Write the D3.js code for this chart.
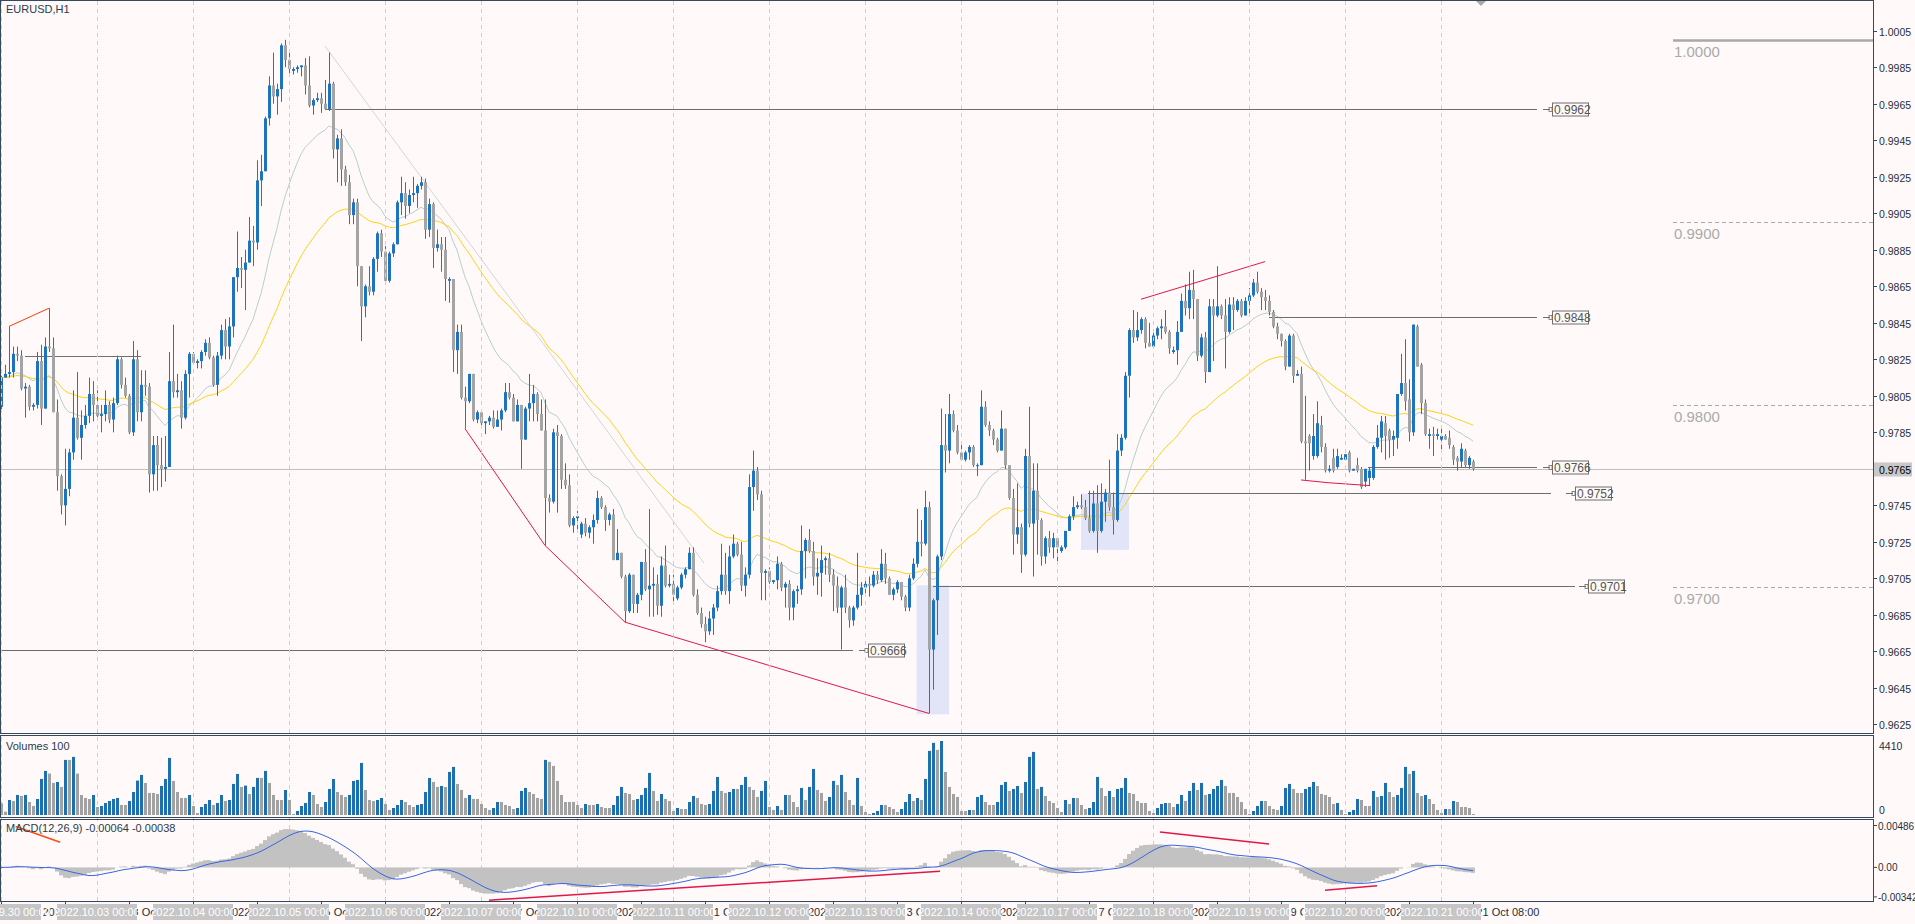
<!DOCTYPE html>
<html><head><meta charset="utf-8">
<script src="https://cdn.jsdelivr.net/npm/d3@7"></script>
<style>html,body{margin:0;padding:0;background:#fffaf9;overflow:hidden}svg{display:block}</style>
</head><body>
<script>
// ---- data (prices in 1e-4 units) ----
const opens=[9799,9815,9817,9818,9828,9827,9809,9810,9799,9800,9824,9798,9832,9831,9796,9761,9745,9754,9774,9793,9782,9789,9794,9806,9800,9794,9795,9800,9792,9801,9825,9811,9805,9785,9825,9796,9811,9810,9762,9778,9767,9765,9766,9813,9807,9808,9793,9817,9828,9823,9824,9829,9834,9826,9811,9827,9841,9832,9843,9870,9875,9874,9878,9890,9889,9923,9928,9957,9975,9969,9973,9997,9989,9983,9984,9985,9986,9975,9964,9967,9968,9965,9962,9976,9940,9946,9929,9922,9904,9911,9876,9854,9865,9862,9880,9894,9884,9868,9883,9888,9911,9916,9909,9915,9916,9920,9922,9896,9910,9886,9888,9885,9868,9869,9830,9840,9804,9802,9817,9792,9796,9790,9791,9793,9788,9792,9797,9807,9804,9791,9800,9781,9798,9801,9806,9795,9786,9749,9747,9785,9783,9759,9756,9734,9738,9729,9735,9730,9733,9737,9749,9744,9737,9740,9715,9719,9706,9687,9707,9691,9696,9714,9699,9701,9702,9690,9712,9701,9702,9694,9700,9707,9710,9719,9696,9686,9680,9676,9683,9689,9698,9707,9698,9717,9724,9718,9701,9707,9755,9764,9751,9708,9709,9703,9704,9713,9700,9702,9689,9698,9699,9720,9726,9720,9706,9708,9715,9716,9707,9701,9689,9700,9689,9682,9689,9696,9700,9702,9701,9707,9704,9713,9705,9696,9699,9703,9695,9689,9705,9713,9725,9724,9744,9666,9693,9717,9778,9775,9795,9786,9774,9770,9774,9777,9767,9767,9799,9789,9786,9781,9775,9787,9767,9749,9729,9733,9718,9772,9735,9753,9737,9717,9727,9722,9727,9720,9722,9731,9739,9744,9745,9744,9738,9731,9746,9731,9747,9752,9744,9737,9775,9782,9816,9841,9837,9841,9847,9834,9832,9838,9842,9843,9840,9829,9830,9840,9857,9853,9863,9858,9827,9837,9818,9854,9849,9854,9849,9840,9855,9852,9857,9849,9857,9860,9867,9862,9859,9857,9851,9843,9839,9835,9821,9838,9816,9817,9780,9783,9772,9772,9789,9777,9764,9771,9766,9770,9770,9774,9764,9767,9765,9758,9760,9760,9777,9782,9790,9786,9781,9782,9806,9812,9803,9785,9843,9822,9801,9783,9784,9783,9781,9783,9782,9777,9771,9769,9775,9767,9769];
const highs=[9816,9822,9843,9832,9832,9830,9812,9811,9801,9829,9833,9837,9853,9837,9803,9762,9776,9776,9808,9818,9797,9800,9815,9813,9808,9800,9808,9802,9804,9827,9826,9815,9806,9835,9830,9819,9819,9812,9783,9783,9782,9783,9829,9844,9817,9813,9819,9829,9829,9825,9830,9836,9837,9827,9829,9844,9847,9848,9870,9895,9881,9885,9903,9898,9934,9937,9958,9980,9993,9976,9998,10000,9993,9985,9986,9986,9990,9991,9968,9971,9971,9978,9993,9977,9948,9951,9931,9926,9913,9913,9876,9866,9876,9881,9895,9896,9887,9884,9889,9912,9925,9922,9918,9925,9921,9925,9924,9913,9911,9896,9892,9892,9870,9869,9844,9844,9810,9817,9817,9797,9796,9791,9794,9797,9797,9798,9812,9812,9806,9803,9800,9799,9817,9811,9807,9803,9803,9751,9787,9789,9784,9768,9762,9739,9742,9736,9738,9734,9740,9753,9750,9745,9741,9743,9732,9719,9707,9708,9707,9697,9714,9721,9743,9711,9707,9717,9723,9707,9707,9701,9708,9711,9722,9722,9699,9689,9684,9687,9691,9701,9724,9719,9723,9729,9725,9725,9711,9762,9775,9766,9753,9710,9711,9704,9717,9714,9703,9704,9699,9701,9734,9727,9732,9725,9716,9723,9717,9719,9710,9706,9701,9707,9690,9690,9719,9703,9705,9706,9709,9709,9721,9719,9706,9700,9704,9703,9696,9707,9716,9743,9737,9753,9747,9694,9718,9798,9795,9806,9797,9789,9778,9775,9778,9778,9768,9808,9802,9791,9787,9782,9797,9787,9767,9754,9757,9735,9776,9799,9768,9768,9738,9728,9731,9730,9727,9723,9731,9740,9750,9747,9751,9748,9753,9753,9756,9757,9754,9770,9752,9784,9784,9818,9842,9852,9851,9848,9848,9845,9840,9843,9847,9852,9841,9832,9846,9861,9866,9873,9874,9858,9839,9840,9858,9858,9876,9855,9858,9859,9859,9858,9858,9859,9864,9869,9873,9864,9863,9860,9852,9845,9839,9836,9839,9839,9819,9821,9805,9784,9795,9802,9794,9779,9767,9776,9776,9773,9773,9775,9765,9771,9766,9765,9766,9778,9789,9794,9794,9787,9786,9806,9828,9836,9814,9844,9844,9823,9803,9787,9788,9787,9787,9784,9786,9778,9772,9779,9776,9772,9770];
const lows=[9796,9815,9815,9815,9824,9808,9793,9797,9797,9798,9789,9798,9829,9796,9753,9740,9734,9750,9770,9781,9770,9787,9790,9791,9793,9785,9791,9790,9785,9800,9809,9804,9784,9783,9791,9791,9805,9752,9753,9753,9755,9758,9766,9804,9804,9787,9792,9804,9822,9820,9820,9827,9825,9810,9805,9825,9825,9825,9837,9862,9864,9852,9878,9876,9885,9909,9928,9953,9965,9959,9966,9985,9981,9981,9982,9980,9970,9963,9959,9966,9960,9962,9961,9935,9922,9920,9920,9899,9899,9865,9835,9848,9860,9860,9873,9881,9867,9867,9881,9888,9904,9902,9905,9911,9908,9918,9891,9892,9875,9884,9873,9857,9856,9818,9817,9803,9787,9801,9791,9790,9788,9784,9789,9787,9788,9786,9796,9803,9791,9791,9765,9781,9791,9791,9791,9786,9723,9741,9746,9741,9754,9754,9733,9730,9731,9727,9728,9727,9724,9735,9743,9731,9734,9715,9715,9705,9681,9686,9686,9686,9693,9698,9684,9684,9685,9684,9700,9700,9692,9693,9699,9705,9710,9695,9685,9678,9670,9674,9674,9687,9696,9696,9691,9716,9717,9698,9695,9705,9742,9748,9693,9693,9702,9702,9699,9698,9689,9682,9682,9691,9696,9705,9719,9701,9696,9695,9707,9703,9687,9686,9666,9686,9678,9679,9688,9690,9695,9695,9700,9702,9703,9702,9696,9693,9697,9693,9687,9687,9704,9711,9717,9723,9631,9644,9674,9715,9763,9768,9785,9773,9770,9769,9770,9766,9761,9767,9788,9783,9778,9774,9775,9765,9748,9718,9724,9708,9717,9733,9706,9718,9712,9713,9719,9716,9714,9719,9721,9731,9737,9743,9743,9737,9730,9730,9719,9730,9736,9742,9729,9736,9772,9781,9804,9834,9835,9839,9831,9832,9832,9836,9836,9839,9828,9828,9822,9840,9849,9847,9847,9824,9826,9812,9818,9824,9848,9847,9820,9839,9841,9851,9848,9849,9850,9859,9861,9852,9852,9849,9842,9836,9832,9819,9821,9812,9816,9779,9759,9764,9770,9771,9774,9763,9763,9763,9765,9770,9770,9763,9764,9763,9754,9755,9756,9759,9776,9774,9770,9771,9772,9776,9805,9797,9780,9783,9821,9795,9783,9776,9772,9781,9775,9781,9776,9767,9764,9766,9766,9765,9764];
const closes=[9815,9817,9818,9828,9827,9809,9810,9799,9800,9824,9798,9832,9831,9796,9761,9745,9754,9774,9793,9782,9789,9794,9806,9800,9794,9795,9800,9792,9801,9825,9811,9805,9785,9825,9796,9811,9810,9762,9778,9767,9765,9766,9813,9807,9808,9793,9817,9828,9823,9824,9829,9834,9826,9811,9827,9841,9832,9843,9870,9875,9874,9878,9890,9889,9923,9928,9957,9975,9969,9973,9997,9989,9984,9984,9985,9986,9975,9964,9967,9968,9965,9962,9976,9940,9946,9929,9922,9904,9911,9876,9854,9865,9862,9880,9894,9884,9868,9883,9888,9911,9916,9909,9915,9916,9920,9922,9896,9910,9886,9888,9885,9869,9869,9830,9840,9804,9802,9817,9792,9796,9790,9791,9793,9788,9792,9797,9807,9804,9791,9800,9781,9798,9801,9806,9795,9786,9749,9747,9785,9783,9759,9756,9734,9738,9739,9735,9730,9733,9737,9749,9744,9737,9740,9715,9719,9706,9687,9707,9691,9696,9714,9699,9701,9702,9690,9712,9701,9702,9696,9700,9707,9710,9719,9696,9686,9680,9676,9683,9689,9698,9707,9698,9717,9724,9718,9701,9707,9755,9764,9751,9708,9709,9703,9704,9713,9700,9702,9689,9698,9699,9720,9726,9720,9706,9708,9715,9716,9707,9701,9689,9700,9689,9682,9689,9696,9700,9702,9701,9707,9704,9713,9705,9696,9699,9703,9695,9689,9705,9713,9725,9724,9744,9666,9693,9717,9778,9775,9795,9786,9774,9770,9774,9777,9767,9767,9799,9789,9786,9781,9775,9787,9767,9749,9729,9733,9718,9772,9735,9753,9737,9717,9727,9722,9727,9722,9722,9731,9739,9744,9745,9744,9738,9731,9746,9731,9747,9752,9744,9737,9775,9782,9816,9841,9837,9841,9847,9834,9832,9838,9842,9843,9840,9831,9830,9840,9857,9853,9863,9858,9827,9837,9818,9854,9849,9854,9849,9840,9855,9852,9857,9849,9857,9860,9867,9862,9859,9857,9851,9843,9839,9835,9821,9838,9816,9817,9780,9779,9779,9783,9790,9777,9764,9765,9764,9772,9771,9773,9764,9765,9764,9755,9765,9764,9777,9782,9791,9783,9781,9783,9806,9812,9802,9785,9844,9821,9801,9784,9784,9783,9784,9783,9781,9778,9770,9769,9776,9767,9771,9765];
const volumes=[697,199,896,836,1194,1134,1194,776,537,955,2149,2627,2468,1910,1970,1672,3284,3284,3463,2468,1194,1015,955,1194,478,537,716,836,955,1015,597,597,836,1373,2050,2388,1910,1313,1313,1254,1731,2149,3403,2030,1373,1015,1015,1194,537,119,478,657,896,597,716,1194,836,896,1851,2448,1672,1751,1254,1672,2209,2209,2627,1910,1194,896,896,1493,896,60,239,537,716,1373,1194,657,478,776,1552,2149,1373,1194,1075,1194,2030,2090,3104,1493,896,836,896,1015,657,299,418,597,896,776,597,478,597,657,1373,2209,1970,1672,1731,1672,2567,2866,1851,1493,1015,1194,955,955,657,418,299,418,776,776,597,537,358,418,1433,1612,1373,1254,1015,955,3284,3164,2925,2030,1194,776,776,776,597,418,657,597,597,657,478,418,418,597,1134,1672,1313,1254,896,955,1194,1612,2507,1433,836,1254,955,836,239,418,358,358,776,1134,1015,657,597,657,1433,2269,1433,1313,1373,1552,1552,1791,2269,1672,1493,1075,1433,2030,478,299,537,299,1194,1194,776,478,1612,896,1672,2746,1493,1313,836,1075,2030,1791,2388,1373,896,597,2209,537,179,60,119,239,597,597,478,358,179,358,776,1254,836,1015,896,2149,3821,4298,3881,4410,2567,1672,1254,1075,239,239,299,299,1075,1194,776,597,597,776,1791,1970,1433,1552,1731,1313,1970,3463,3761,1552,1672,1134,836,716,418,179,896,657,1015,1015,597,358,418,776,2269,1612,1134,1433,1075,1552,1612,2209,1313,1254,836,716,716,239,119,418,657,716,716,478,657,1194,836,1433,1910,1493,1910,1194,1254,1552,1731,2090,1731,1313,1313,1075,776,358,60,239,537,836,836,537,358,299,537,1612,1851,1552,1313,1313,1552,1672,1970,1731,1254,1194,1075,657,716,299,60,179,299,955,896,537,537,1433,1075,1134,1910,1373,1075,1194,1612,2866,2448,2627,1313,1134,1194,955,657,299,119,358,358,836,776,478,478,418,60];
const dayLabels=["2022.09.30 00:00","2022.10.03 00:00","2022.10.04 00:00","2022.10.05 00:00","2022.10.06 00:00","2022.10.07 00:00","2022.10.10 00:00","2022.10.11 00:00","2022.10.12 00:00","2022.10.13 00:00","2022.10.14 00:00","2022.10.17 00:00","2022.10.18 00:00","2022.10.19 00:00","2022.10.20 00:00","2022.10.21 00:00"];
const dayShort=["30 Sep","3 Oct","4 Oct","5 Oct","6 Oct","7 Oct","10 Oct","11 Oct","12 Oct","13 Oct","14 Oct","17 Oct","18 Oct","19 Oct","20 Oct","21 Oct"];
const priceTicks=[1.0005,0.9985,0.9965,0.9945,0.9925,0.9905,0.9885,0.9865,0.9845,0.9825,0.9805,0.9785,0.9765,0.9745,0.9725,0.9705,0.9685,0.9665,0.9645,0.9625];
const macdTicks=[0.00486,0,-0.00342];
const fibLevels=[1.0000,0.9900,0.9800,0.9700];
const labeledLines=[
 {p:0.9962,a:81,b:384,box:387.75},{p:0.9848,a:317,b:384,box:387.75},{p:0.9766,a:341.75,b:384,box:387.75},
 {p:0.9752,a:271.75,b:387.5,box:393.5},{p:0.9701,a:233,b:393.5,box:396.75},{p:0.9666,a:0,b:213,box:216.75}];
const bidPrice=0.9765;
const N=closes.length;
const P=v=>v/10000;

const W=1915,H=924,AX=1873;
const svg=d3.select("body").append("svg").attr("width",W).attr("height",H);
svg.append("rect").attr("width",W).attr("height",H).attr("fill","#fffaf9");
const FONT="'Liberation Sans',Arial,sans-serif";
const x=d3.scaleLinear().domain([0,368]).range([1,1473]);
const y=d3.scaleLinear().domain([0.9625,1.0005]).range([724.4,30.7]);
const yv=d3.scaleLinear().domain([0,4410]).range([815,741]);
const ym=d3.scaleLinear().domain([-0.00342,0.00486]).range([896.9,825.5]);

const defs=svg.append("defs");
defs.append("clipPath").attr("id","cm").append("rect").attr("x",1).attr("y",1).attr("width",AX-1).attr("height",732);
const main=svg.append("g").attr("clip-path","url(#cm)");

[[228.9,237,0.97012,0.96305],[270,282,0.97514,0.97206]].forEach(r=>{
 main.append("rect").attr("x",x(r[0])).attr("width",x(r[1])-x(r[0])).attr("y",y(r[2])).attr("height",y(r[3])-y(r[2])).attr("fill","#e2e5f8");});

const gridG=svg.append("g");
for(let d=0;d<dayLabels.length;d++){gridG.append("line").attr("x1",x(d*24)+0.5).attr("x2",x(d*24)+0.5).attr("y1",1).attr("y2",901)
 .attr("stroke","#cfcfcf").attr("stroke-dasharray","4,4");}

main.append("line").attr("x1",0).attr("x2",AX).attr("y1",Math.round(y(bidPrice))+0.5).attr("y2",Math.round(y(bidPrice))+0.5).attr("stroke","#c0c0c0");

fibLevels.forEach((f,i)=>{const yy=Math.round(y(f))+0.5;
 main.append("line").attr("x1",1673).attr("x2",AX).attr("y1",yy).attr("y2",yy).attr("stroke","#a9a9a9").attr("stroke-width",i==0?2.5:1).attr("stroke-dasharray",i==0?null:"4,3");
 main.append("text").attr("x",1674).attr("y",yy+16).text(f.toFixed(4)).attr("font-family",FONT).attr("font-size",15).attr("fill","#aaaaaa");});

function ema(arr,n){const k=2/(n+1);let e=arr[0];return arr.map(v=>e=v*k+e*(1-k));}
const cl=closes.map(P);
const line=d3.line().x((d,i)=>x(i)).y(d=>y(d));
main.append("path").attr("d",line(ema(cl,20))).attr("fill","none").attr("stroke","#b8cece").attr("stroke-width",1);
main.append("path").attr("d",line(ema(cl,50))).attr("fill","none").attr("stroke","#ffd21a").attr("stroke-width",1);

main.append("line").attr("x1",x(81)).attr("y1",y(0.99966)).attr("x2",x(175.75)).attr("y2",y(0.97134)).attr("stroke","#d4d4d4");

labeledLines.forEach(l=>{const yy=Math.round(y(l.p))+0.5;const bx=x(l.box);
 main.append("line").attr("x1",x(l.a)).attr("x2",x(l.b)).attr("y1",yy).attr("y2",yy).attr("stroke","#6e6e6e");
 main.append("line").attr("x1",bx-9).attr("x2",bx-2).attr("y1",yy).attr("y2",yy).attr("stroke","#6e6e6e");
 main.append("rect").attr("x",bx-3).attr("y",yy-2).attr("width",3).attr("height",4).attr("fill","none").attr("stroke","#6e6e6e").attr("stroke-width",0.8);
 main.append("rect").attr("x",bx+0.5).attr("y",yy-6.5).attr("width",36).attr("height",13).attr("fill","#fffaf9").attr("stroke","#6e6e6e");
 main.append("text").attr("x",bx+2).attr("y",yy+4.5).text(l.p.toFixed(4)).attr("font-family",FONT).attr("font-size",12).attr("fill","#555");});
main.append("line").attr("x1",x(6)).attr("x2",x(35)).attr("y1",Math.round(y(0.9827))+0.5).attr("y2",Math.round(y(0.9827))+0.5).attr("stroke","#707070");

const cg=main.append("g");
for(let i=0;i<N;i++){const o=P(opens[i]),c=P(closes[i]);const h=Math.max(P(highs[i]),o,c),l=Math.min(P(lows[i]),o,c);
 const cx=Math.round(x(i));const up=c>=o;
 cg.append("line").attr("x1",cx+0.5).attr("x2",cx+0.5).attr("y1",y(h)).attr("y2",y(l)).attr("stroke","#5c6870");
 const t=y(Math.max(o,c)),b=y(Math.min(o,c));
 cg.append("rect").attr("x",cx-1).attr("width",3).attr("y",t).attr("height",Math.max(1,b-t)).attr("fill",up?"#1e73c0":"#a4a4a4");}

const tl=d3.line().x(d=>x(d[0])).y(d=>y(d[1]));
main.append("path").attr("d",tl([[2,0.9843],[12,0.9853]])).attr("stroke","#ff3c00").attr("fill","none");
main.append("path").attr("d",tl([[116,0.9787],[136,0.9723],[156,0.9681],[232,0.9631]])).attr("stroke","#e0184a").attr("fill","none");
main.append("path").attr("d",tl([[285,0.98579],[316,0.98785]])).attr("stroke","#e0184a").attr("fill","none");
main.append("path").attr("d",tl([[325,0.97589],[331.75,0.97574],[342.25,0.97558]])).attr("stroke","#e0184a").attr("fill","none");

main.append("text").attr("x",6).attr("y",13).text("EURUSD,H1").attr("font-family",FONT).attr("font-size",11).attr("fill","#2b3b4a");
main.append("path").attr("d","M1476,1 L1486,1 L1481,6 Z").attr("fill","#a8a8a8");

const vg=svg.append("g");
volumes.forEach((v,i)=>{const cx=Math.round(x(i));const up=i==0?false:v>volumes[i-1];
 vg.append("rect").attr("x",cx-1).attr("width",3).attr("y",yv(v)).attr("height",yv(0)-yv(v)).attr("fill",up?"#1e6fb0":"#a2a2a2");});
svg.append("text").attr("x",6).attr("y",750).text("Volumes 100").attr("font-family",FONT).attr("font-size",11).attr("fill","#2b3b4a");

const e12=ema(cl,12),e26=ema(cl,26);const macd=e12.map((v,i)=>v-e26[i]);
const sig=macd.map((v,i)=>d3.mean(macd.slice(Math.max(0,i-8),i+1)));
const mg=svg.append("g");
macd.forEach((v,i)=>{const x0=x(i)-2;mg.append("rect").attr("x",x0).attr("width",4).attr("y",Math.min(ym(v),ym(0))).attr("height",Math.abs(ym(v)-ym(0))).attr("fill","#c2c2c2");});
mg.append("path").attr("d",d3.line().x((d,i)=>x(i)).y(d=>ym(d))(sig)).attr("fill","none").attr("stroke","#3a66e0");
const ml=d3.line().x(d=>x(d[0])).y(d=>ym(d[1]));
mg.append("path").attr("d",ml([[3.65,0.00474],[14.8,0.00291]])).attr("stroke","#ff4a10").attr("stroke-width",1.5).attr("fill","none");
mg.append("path").attr("d",ml([[122,-0.0038],[234.75,-0.00044]])).attr("stroke","#e0184a").attr("stroke-width",1.5).attr("fill","none");
mg.append("path").attr("d",ml([[289.75,0.00411],[317,0.00271]])).attr("stroke","#e0184a").attr("stroke-width",1.5).attr("fill","none");
mg.append("path").attr("d",ml([[331,-0.00264],[344,-0.00213]])).attr("stroke","#e0184a").attr("stroke-width",1.5).attr("fill","none");
svg.append("text").attr("x",6).attr("y",832).text("MACD(12,26,9) -0.00064 -0.00038").attr("font-family",FONT).attr("font-size",11).attr("fill","#2b3b4a");

const fr=svg.append("g").attr("fill","none").attr("stroke","#34495c");
[[0,733],[735,817],[819,901]].forEach(p=>fr.append("rect").attr("x",0.5).attr("y",p[0]+0.5).attr("width",AX).attr("height",p[1]-p[0]));

const ax=svg.append("g").attr("font-family",FONT).attr("font-size",10.5).attr("fill","#1f2e3d");
priceTicks.forEach(p=>{const yy=Math.round(y(p))+0.5;ax.append("line").attr("x1",AX+0.5).attr("x2",AX+4).attr("y1",yy).attr("y2",yy).attr("stroke","#34495c");
 ax.append("text").attr("x",AX+6).attr("y",yy+4).text(p.toFixed(4));});
{const yy=Math.round(y(bidPrice))+0.5;ax.append("rect").attr("x",AX+1).attr("y",yy-7).attr("width",38).attr("height",14).attr("fill","#c8c8c8");
 ax.append("text").attr("x",AX+6).attr("y",yy+4).text(bidPrice.toFixed(4)).attr("fill","#000");}
[[4410,746],[0,810]].forEach(d=>{ax.append("text").attr("x",AX+6).attr("y",d[1]+4).text(d[0]);});
macdTicks.forEach(v=>{const yy=ym(v);ax.append("line").attr("x1",AX+0.5).attr("x2",AX+4).attr("y1",yy).attr("y2",yy).attr("stroke","#34495c");
 ax.append("text").attr("x",AX+5).attr("y",yy+4).attr("font-size",10).text(v==0?"0.00":v.toFixed(5));});

// time axis: dark tick labels (shown only in the gaps between day boxes), then day boxes
const tg=svg.append("g").attr("font-family",FONT).attr("font-size",11);
const boxL=d=>x(d*24)-40, boxR=d=>x(d*24)+40;
for(let k=0;k*16<N;k++){const b=k*16,xx=Math.round(x(b))+0.5;const d=Math.floor(b/24),hh=b%24;
 tg.append("line").attr("x1",xx).attr("x2",xx).attr("y1",901).attr("y2",905).attr("stroke","#34495c");
 // visible gap for this label
 let gs=xx+3,ge=xx+75;
 for(let j=0;j<dayLabels.length;j++){const L=boxL(j),R=boxR(j);
   if(L<=gs&&R>gs)gs=R; }
 for(let j=0;j<dayLabels.length;j++){const L=boxL(j); if(L>gs&&L<ge)ge=L;}
 if(k*16===368)ge=W;
 if(ge-gs<4)continue;
 const id="tc"+k;defs.append("clipPath").attr("id",id).append("rect").attr("x",gs).attr("y",903).attr("width",ge-gs).attr("height",18);
 tg.append("text").attr("clip-path","url(#"+id+")").attr("x",xx+3).attr("y",916)
   .text(dayShort[d]+(hh==0?" 2022":" "+String(hh).padStart(2,"0")+":00")).attr("fill","#1f2e3d");}
dayLabels.forEach((t,d)=>{const xx=x(d*24);tg.append("rect").attr("x",xx-40).attr("y",904).attr("width",80).attr("height",16).attr("fill","#c6c6c6");
 tg.append("text").attr("x",Math.max(xx,2+0)).attr("y",916).attr("text-anchor",xx<40?"start":"middle").attr("dx",xx<40?-37:0).text(t).attr("fill","#ffffff");});
</script>
</body></html>
